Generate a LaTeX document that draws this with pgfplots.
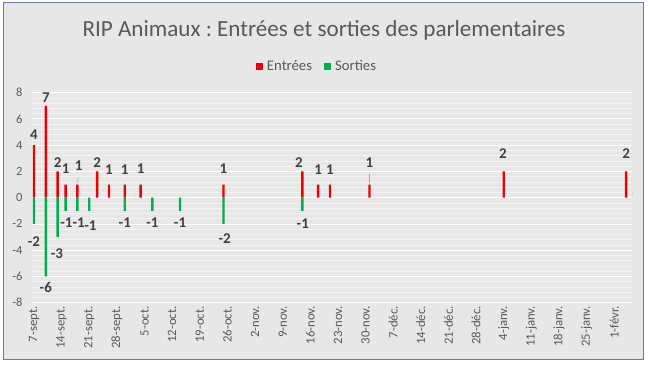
\documentclass[border=0pt]{standalone}
\usepackage{pgfplots}
\pgfplotsset{compat=1.18}
\usepackage{fontspec}
\setmainfont{Carlito}
\frenchspacing
\definecolor{bg}{HTML}{E7E7E7}
\definecolor{grmaj}{HTML}{FFFFFF}
\definecolor{grmin}{HTML}{F3F3F3}
\definecolor{txt}{HTML}{595959}
\definecolor{lbl}{HTML}{404040}
\definecolor{rouge}{HTML}{EE0000}
\definecolor{vert}{HTML}{00B050}
\definecolor{cadre}{HTML}{6C74B4}

\pgfplotstableread{
x y
0 4
3 7
6 2
8 1
11 1
16 2
19 1
23 1
27 1
48 1
68 2
72 1
75 1
85 1
119 2
150 2
}\entrees

\pgfplotstableread{
x y
0 -2
3 -6
6 -3
8 -1
11 -1
14 -1
23 -1
30 -1
37 -1
48 -2
68 -1
}\sorties

\pgfplotstableread{
x y lab
0 4.83 4
3 7.6 7
6 2.71 2
8 2.2 1
11.3 2.43 1
16 2.71 2
19 2.1 1
23 2.1 1
27 2.25 1
48 2.25 1
67.1 2.7 2
72 2.17 1
75 2.17 1
85 2.7 1
118.8 3.33 2
150 3.33 2
0 -3.35 -2
3 -6.81 -6
5.8 -4.29 -3
8.2 -1.9 -1
11.3 -1.9 -1
14.3 -2.16 -1
23 -1.9 -1
30 -1.9 -1
37 -1.9 -1
48.3 -3.09 -2
68.1 -1.95 -1
}\etiquettes

\begin{document}
\begin{tikzpicture}[x=1bp,y=1bp]
\useasboundingbox (0,0) rectangle (648,364);
\fill[white] (0,0) rectangle (648,364);
\fill[bg] (3,5) rectangle (643,361);
\draw[cadre, line width=1bp] (3,5) rectangle (643,361);
\node[text=txt, font=\fontsize{23.2}{27}\selectfont] at (324,334) {RIP Animaux : Entrées et sorties des parlementaires};
\begin{axis}[
  at={(32bp,61.3bp)}, anchor=south west,
  width=600bp, height=210bp, scale only axis,
  xmin=-0.5, xmax=151.5, ymin=-8, ymax=8,
  axis line style={draw=none},
  tick style={draw=none},
  ytick={-8,-6,...,8},
  yticklabels={-8,-6,-4,-2,0,2,4,6,8},
  minor y tick num=4,
  ymajorgrids, yminorgrids,
  major grid style={grmaj, line width=0.9bp},
  minor grid style={grmin, line width=0.7bp},
  yticklabel style={font=\fontsize{12.5}{14}\selectfont, text=txt, xshift=-6bp},
  xtick={0,7,...,147},
  xticklabels={7-sept.,14-sept.,21-sept.,28-sept.,5-oct.,12-oct.,19-oct.,26-oct.,2-nov.,9-nov.,16-nov.,23-nov.,30-nov.,7-déc.,14-déc.,21-déc.,28-déc.,4-janv.,11-janv.,18-janv.,25-janv.,1-févr.},
  xticklabel style={rotate=90, anchor=east, font=\fontsize{12.8}{14}\selectfont, text=txt},
  legend style={at={(0.475,1.127)}, anchor=center, draw=none, fill=none,
    legend columns=2, font=\fontsize{14.8}{17}\selectfont, text=txt,
    /tikz/every even column/.append style={column sep=10bp}},
  legend image code/.code={\fill[#1] (0bp,-3.5bp) rectangle (7bp,3.5bp); \path (0bp,0bp) (9bp,0bp);},
  clip=false,
]
\addplot[ybar, bar width=2.4bp, bar shift=0pt, fill=rouge, draw=none] table[x=x,y=y] {\entrees};
\addlegendentry{Entrées}
\addplot[ybar, bar width=2.4bp, bar shift=0pt, fill=vert, draw=none] table[x=x,y=y] {\sorties};
\addlegendentry{Sorties}
\addplot[forget plot, gray!70, line width=0.5bp] coordinates {(10.9,1.1) (11.3,1.55)};
\addplot[forget plot, gray!70, line width=0.5bp] coordinates {(85,1.1) (85,1.8)};
\addplot[forget plot, draw=none, mark=none, nodes near coords, point meta=explicit symbolic,
  nodes near coords align=center,
  every node near coord/.append style={font=\bfseries\fontsize{15}{16}\selectfont, text=lbl, inner sep=0pt}]
  table[x=x,y=y,meta=lab] {\etiquettes};
\end{axis}
\end{tikzpicture}
\end{document}
